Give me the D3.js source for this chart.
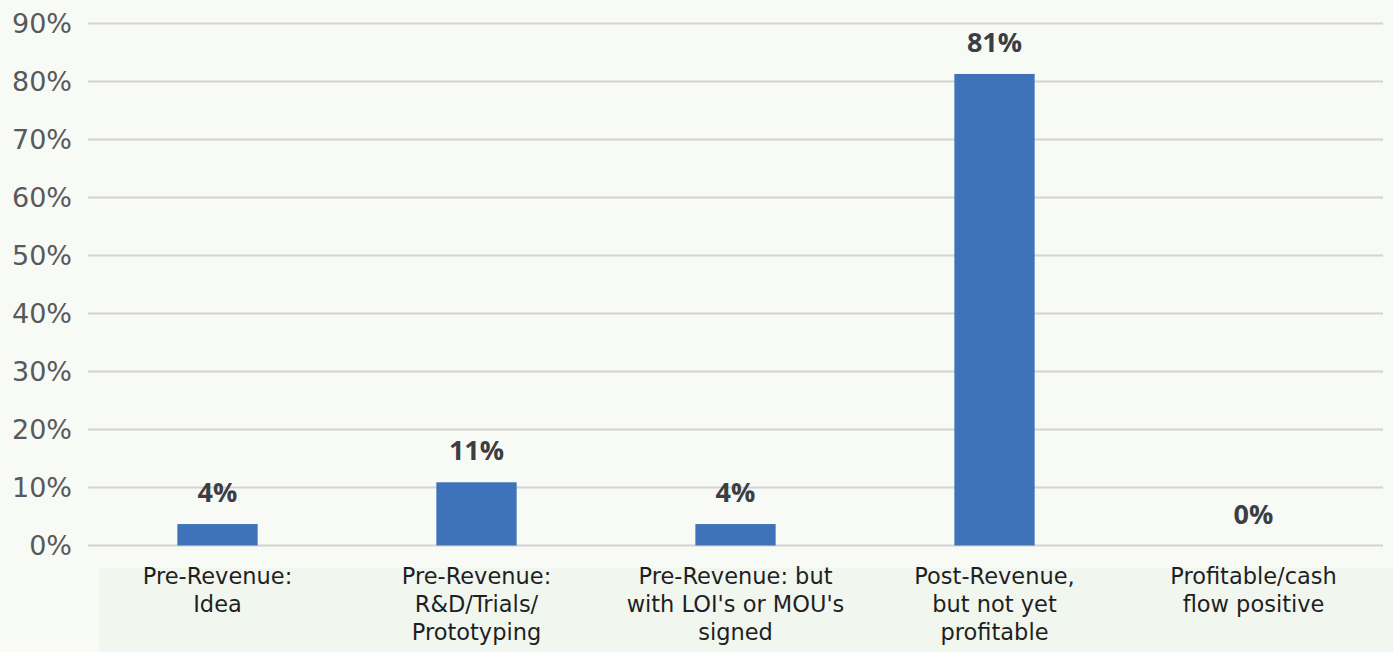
<!DOCTYPE html>
<html>
<head>
<meta charset="utf-8">
<script src="https://cdn.jsdelivr.net/npm/d3@7"></script>
<style>
  html, body { margin: 0; padding: 0; background: #f8faf6; }
  svg { display: block; }
</style>
</head>
<body>
<svg id="chart" width="1393" height="652"></svg>
<script>
// Business stage of respondents (share of total)
const categories = [
  "Pre-Revenue:\nIdea",
  "Pre-Revenue:\nR&D/Trials/\nPrototyping",
  "Pre-Revenue: but\nwith LOI's or MOU's\nsigned",
  "Post-Revenue,\nbut not yet\nprofitable",
  "Profitable/cash\nflow positive"
];
const shares = [0.037, 0.109, 0.037, 0.813, 0];
const tickValues = [0, 0.1, 0.2, 0.3, 0.4, 0.5, 0.6, 0.7, 0.8, 0.9];

const W = 1393, H = 652;
const margin = { left: 88, right: 10, top: 23.5, bottom: 106.5 };
const svg = d3.select("#chart");

const x = d3.scaleBand()
  .domain(categories)
  .range([margin.left, W - margin.right])
  .paddingInner(0.69)
  .paddingOuter(0.345);

const y = d3.scaleLinear()
  .domain([0, 0.9])
  .range([H - margin.bottom, margin.top]);

// Background band behind the category labels
svg.append("rect")
  .attr("x", 99).attr("y", 568)
  .attr("width", W - 99).attr("height", H - 568)
  .attr("fill", "#f1f7ef");

// Gridlines
svg.append("g")
  .selectAll("line")
  .data(tickValues)
  .join("line")
  .attr("x1", margin.left)
  .attr("x2", W - margin.right)
  .attr("y1", d => y(d))
  .attr("y2", d => y(d))
  .attr("stroke", "#d3d3d3")
  .attr("stroke-width", 2);

// Y axis labels
const yAxis = d3.axisLeft(y)
  .tickValues(tickValues)
  .tickFormat(d3.format(".0%"))
  .tickSize(0)
  .tickPadding(0);

svg.append("g")
  .attr("transform", `translate(72,0)`)
  .call(yAxis)
  .call(g => g.select(".domain").remove())
  .call(g => g.selectAll("text")
    .attr("font-family", "'DejaVu Sans', sans-serif")
    .attr("font-size", 27)
    .attr("fill", "#58595b"));

// Bars
svg.append("g")
  .selectAll("rect")
  .data(shares)
  .join("rect")
  .attr("x", (d, i) => x(categories[i]))
  .attr("width", x.bandwidth())
  .attr("y", d => y(d))
  .attr("height", d => y(0) - y(d))
  .attr("fill", "#3e73b9");

// Value labels
svg.append("g")
  .selectAll("text")
  .data(shares)
  .join("text")
  .attr("x", (d, i) => x(categories[i]) + x.bandwidth() / 2)
  .attr("y", d => y(d) - 22)
  .attr("text-anchor", "middle")
  .attr("font-family", "'Open Sans', sans-serif")
  .attr("font-weight", "bold")
  .attr("font-size", 27)
  .attr("fill", "#3b3e42")
  .text(d => d3.format(".0%")(d));

// Category labels
const catG = svg.append("g");
categories.forEach(c => {
  const t = catG.append("text")
    .attr("x", x(c) + x.bandwidth() / 2)
    .attr("y", 584)
    .attr("text-anchor", "middle")
    .attr("font-family", "'DejaVu Sans', sans-serif")
    .attr("font-size", 22.5)
    .attr("fill", "#1f1f1f");
  c.split("\n").forEach((line, k) => {
    t.append("tspan")
      .attr("x", x(c) + x.bandwidth() / 2)
      .attr("dy", k === 0 ? 0 : 28)
      .text(line);
  });
});
</script>
</body>
</html>
